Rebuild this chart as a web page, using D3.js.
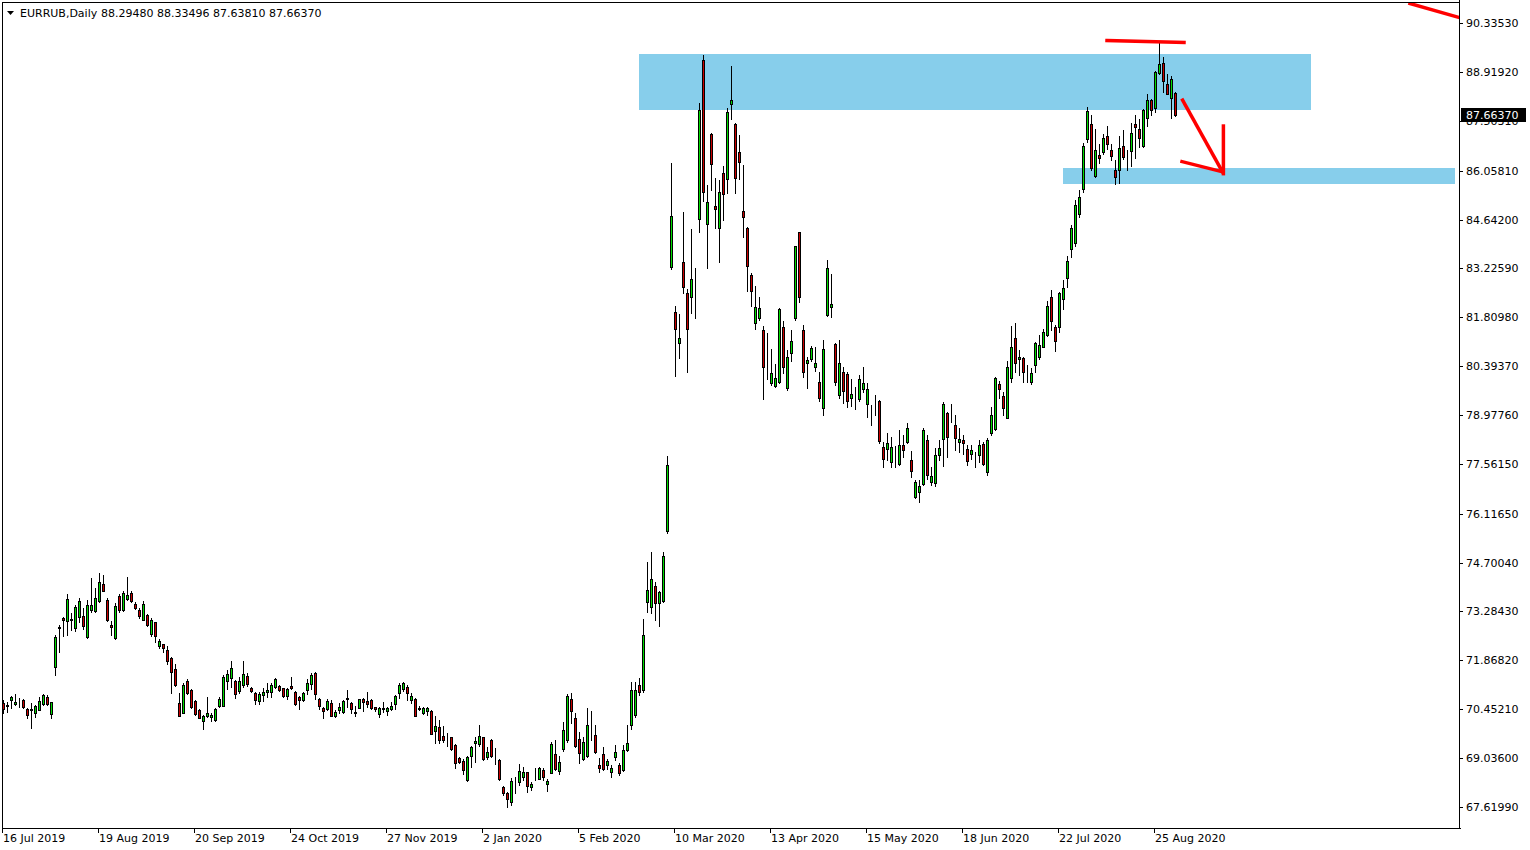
<!DOCTYPE html>
<html>
<head>
<meta charset="utf-8">
<script src="https://cdn.jsdelivr.net/npm/d3@7"></script>
<style>
  html, body { margin: 0; padding: 0; background: #ffffff; }
  svg { display: block; }
  text { font-family: "DejaVu Sans", "Liberation Sans", sans-serif; font-size: 11px; fill: #000; }
</style>
</head>
<body>
<svg id="chart" width="1530" height="850"></svg>
<script>
// ---------------- DATA (EURRUB, Daily) ----------------
const symbol = "EURRUB,Daily";

const opens = [
70.62,70.55,70.73,70.60,70.68,70.72,70.46,70.44,70.33,70.44,70.60,70.81,70.31,71.67,72.81,73.10,73.00,73.07,72.81,73.12,
73.15,72.55,73.32,73.29,73.60,74.09,73.63,72.89,72.51,73.73,73.32,73.64,73.81,73.50,73.33,73.05,73.18,72.62,72.97,72.29,
72.34,72.18,71.93,71.61,70.62,70.35,71.26,71.01,70.69,70.43,70.12,70.27,70.22,70.14,70.55,70.55,71.28,71.37,71.26,70.98,
71.16,71.42,71.06,70.91,70.70,70.87,70.95,70.94,71.09,71.13,71.06,70.84,71.12,70.95,70.81,70.72,71.00,71.19,71.50,70.75,
70.49,70.45,70.62,70.27,70.43,70.37,70.76,70.62,70.35,70.50,70.74,70.68,70.72,70.51,70.30,70.47,70.41,70.47,70.60,70.93,
71.05,71.10,70.73,70.74,70.47,70.35,70.41,70.40,69.83,69.94,69.68,69.66,69.64,69.42,69.04,68.96,68.41,69.11,69.48,69.45,
69.64,69.08,69.55,69.09,68.98,68.20,68.02,67.77,68.33,68.33,68.50,68.62,68.21,68.57,68.44,68.69,68.30,68.61,69.16,68.66,
69.30,69.56,70.74,70.19,69.58,69.02,69.10,69.89,69.70,68.83,69.16,68.83,68.64,69.08,68.83,68.68,69.26,70.00,70.28,71.14,
71.00,73.55,73.42,74.02,73.52,73.60,75.63,83.26,81.95,81.05,83.40,82.50,82.40,82.53,84.65,89.26,84.50,87.12,85.03,84.41,
85.98,85.81,87.98,87.40,86.59,84.89,84.39,83.02,81.63,81.78,81.43,80.78,79.90,79.83,79.94,81.52,79.77,80.77,81.78,84.27,
81.43,80.48,80.59,80.36,79.92,79.17,81.87,82.12,81.04,79.56,80.23,80.16,79.46,79.39,79.43,79.72,79.29,79.04,79.30,79.39,
78.06,77.98,77.62,77.76,77.55,78.11,78.19,77.67,76.61,76.75,76.98,78.25,77.04,77.01,77.82,78.27,79.03,78.96,78.69,78.20,
78.25,77.98,77.86,77.76,77.82,78.13,77.33,78.47,78.56,79.87,79.54,78.90,80.06,81.20,80.60,80.62,80.06,79.92,80.44,80.67,
80.96,81.29,82.40,81.52,81.54,82.33,82.94,83.78,83.97,84.79,85.54,86.98,87.40,85.91,86.51,86.59,87.06,86.67,86.09,86.09,
86.76,86.20,86.63,87.41,87.26,86.78,87.57,88.10,87.86,88.90,89.19,88.58,88.17,88.2948
];
const highs = [
70.71,70.65,70.84,70.89,70.77,70.74,70.50,70.62,70.58,70.82,70.89,70.87,70.67,72.60,72.89,73.13,73.79,73.23,73.47,73.68,
73.38,73.62,74.25,73.96,74.39,74.34,73.68,73.02,73.52,73.78,73.88,74.28,73.88,73.57,73.38,73.59,73.22,73.09,72.99,72.49,
72.35,72.29,71.98,71.76,70.93,71.20,71.32,71.03,70.72,70.45,70.28,70.81,70.33,70.49,70.82,71.44,71.59,71.85,71.30,71.40,
71.85,71.50,71.09,70.96,70.96,71.06,71.20,71.20,71.36,71.16,71.07,71.07,71.38,70.97,70.84,70.95,71.32,71.51,71.53,70.79,
70.53,70.74,70.72,70.43,70.62,70.72,71.01,70.65,70.55,70.76,70.77,70.95,70.74,70.53,70.53,70.65,70.51,70.65,70.87,71.20,
71.24,71.16,70.91,70.77,70.55,70.53,70.53,70.43,70.26,70.14,69.97,69.76,69.66,69.45,69.08,69.00,69.10,69.40,69.66,70.00,
69.66,69.35,69.58,69.32,69.00,68.23,68.05,68.45,68.50,68.86,68.79,68.64,68.35,68.74,68.77,68.74,68.42,69.51,69.56,69.10,
70.07,70.89,70.91,70.33,69.80,69.66,70.50,70.40,70.00,69.03,69.37,69.00,68.84,69.42,68.89,69.42,70.00,71.25,71.25,71.36,
73.07,74.71,75.00,74.13,73.89,75.00,77.79,86.27,82.13,81.90,84.86,82.62,84.37,83.24,88.02,89.41,85.64,87.14,85.83,85.79,
86.19,87.86,89.09,87.43,87.09,86.22,84.43,83.10,82.71,82.40,81.55,81.36,80.89,80.46,82.07,81.70,80.86,81.44,83.88,84.29,
81.59,80.66,80.98,80.94,80.23,81.15,83.47,83.05,81.06,81.15,80.38,80.23,80.02,79.78,80.14,80.36,79.90,79.27,79.56,79.41,
78.20,78.45,78.35,78.09,78.54,78.40,78.76,77.93,77.09,77.09,78.59,78.40,77.48,78.01,78.25,79.36,79.07,79.29,78.98,78.59,
78.40,78.11,78.11,77.91,78.25,78.20,78.30,79.22,80.07,79.96,79.65,80.55,81.55,81.63,80.86,80.67,80.44,80.35,81.10,81.29,
81.46,82.28,82.60,81.59,82.55,82.89,83.58,84.48,85.21,85.50,86.86,87.90,87.67,87.26,86.82,87.12,87.34,86.84,86.38,87.06,
87.23,86.66,87.43,87.67,87.54,87.84,88.27,88.12,88.94,89.77,89.34,88.87,88.80,88.33496
];
const lows = [
70.33,70.36,70.48,70.58,70.53,70.50,70.19,69.92,70.24,70.43,70.58,70.58,70.21,71.44,72.12,72.58,72.61,72.75,72.73,72.98,
72.77,72.52,73.28,73.26,73.57,73.87,73.02,72.60,72.50,73.28,73.31,73.62,73.57,73.37,73.09,73.03,72.87,72.57,72.39,72.22,
72.10,71.77,70.93,71.13,70.26,70.33,70.89,70.50,70.28,70.19,69.88,70.24,70.10,70.12,70.53,70.54,71.03,71.11,70.79,70.91,
71.11,71.13,70.96,70.60,70.60,70.70,70.80,70.80,71.06,70.99,70.82,70.75,71.05,70.58,70.47,70.70,70.89,71.04,70.76,70.45,
70.21,70.43,70.26,70.24,70.35,70.35,70.53,70.33,70.27,70.48,70.41,70.53,70.46,70.41,70.22,70.38,70.29,70.43,70.45,70.77,
70.97,70.72,70.62,70.26,70.43,70.32,70.29,69.73,69.46,69.48,69.51,69.39,69.27,68.75,68.88,68.58,68.37,68.79,68.93,69.40,
68.99,69.01,69.06,68.86,68.40,67.97,67.63,67.68,68.02,68.26,68.40,68.06,68.11,68.40,68.42,68.40,68.08,68.60,68.69,68.57,
69.24,69.51,70.04,69.37,68.88,68.98,69.08,69.56,69.18,68.64,68.69,68.71,68.50,68.98,68.55,68.66,69.24,69.88,70.24,70.87,
70.95,73.28,73.24,73.04,72.85,73.57,75.57,83.20,80.11,80.63,82.50,80.23,81.94,81.78,84.29,85.19,83.24,85.50,84.39,83.42,
84.63,85.42,87.54,85.40,85.81,84.13,82.58,82.14,81.48,81.73,79.43,80.02,79.85,79.78,79.90,80.20,79.70,80.55,81.72,82.26,
80.07,79.77,80.55,80.26,79.39,78.99,81.84,81.82,79.85,79.46,79.33,79.22,79.25,79.14,79.39,79.65,78.93,78.69,78.98,78.16,
77.48,77.67,77.48,77.48,77.53,77.77,78.16,77.19,76.58,76.46,76.95,77.12,76.95,76.93,77.67,77.51,77.77,78.78,77.96,77.91,
77.86,77.53,77.70,77.48,77.63,77.53,77.24,78.41,78.54,79.46,78.99,78.88,79.94,80.23,80.14,79.92,79.94,79.87,80.23,80.59,
80.94,81.27,81.44,80.84,81.39,82.04,82.69,83.56,83.88,84.72,85.45,86.89,86.09,85.88,86.27,86.54,86.68,86.36,85.66,85.71,
86.39,86.07,86.19,86.41,86.75,86.75,87.35,87.67,87.76,88.87,88.34,88.28,87.57,87.6381
];
const closes = [
70.46,70.57,70.82,70.67,70.69,70.53,70.28,70.45,70.54,70.69,70.87,70.60,70.66,72.55,72.83,73.03,73.65,73.03,73.41,73.59,
72.87,73.46,73.46,73.68,74.14,73.89,73.05,72.83,73.43,73.32,73.81,73.76,73.60,73.39,73.16,73.49,72.90,73.03,72.56,72.42,
72.23,71.85,71.54,71.14,70.27,71.16,70.92,70.52,70.31,70.21,70.26,70.34,70.28,70.47,70.74,71.39,71.47,71.64,70.90,71.27,
71.46,71.18,70.99,70.72,70.89,70.95,71.01,71.14,71.33,71.01,70.84,71.03,71.07,70.60,70.73,70.91,71.20,71.44,70.89,70.56,
70.39,70.70,70.27,70.37,70.52,70.68,70.77,70.46,70.36,70.74,70.67,70.59,70.50,70.45,70.48,70.48,70.48,70.55,70.84,71.16,
71.21,70.91,70.84,70.27,70.48,70.50,70.49,69.74,69.97,69.57,69.57,69.66,69.30,68.90,68.93,68.70,69.06,69.36,69.54,69.67,
69.01,69.21,69.09,69.09,68.43,68.02,67.86,68.38,68.33,68.66,68.62,68.24,68.28,68.57,68.74,68.50,68.37,69.45,68.73,68.92,
69.84,70.84,70.39,69.39,69.18,69.50,70.00,69.89,69.20,68.76,68.71,68.95,68.75,69.21,68.60,69.27,69.48,71.01,71.01,70.94,
72.60,73.91,74.22,73.52,73.84,74.89,77.53,84.74,81.46,81.20,82.70,81.46,82.92,82.53,87.81,85.45,85.14,86.24,84.94,85.43,
85.37,87.76,88.09,85.83,86.30,84.70,83.30,82.58,82.10,82.07,80.36,80.78,80.19,80.04,82.04,80.38,80.67,81.13,83.86,82.39,
80.21,80.57,80.91,80.48,79.48,80.88,83.23,82.19,79.94,80.48,79.67,79.39,79.59,79.39,80.01,79.90,79.72,79.04,79.30,78.23,
77.69,78.16,78.05,77.76,78.11,77.95,78.59,77.36,77.04,76.92,78.54,77.24,77.22,77.82,78.03,79.30,78.35,78.96,78.32,78.28,
78.16,77.65,77.95,77.76,78.11,77.55,78.25,78.98,80.04,79.72,79.19,80.38,80.96,80.48,80.67,80.23,80.06,80.19,81.05,81.00,
81.37,82.13,81.70,81.13,82.50,82.65,83.44,84.41,85.06,85.28,86.77,87.78,86.12,86.67,86.43,86.99,86.82,86.49,85.88,86.70,
86.46,86.20,87.14,87.33,86.99,87.81,88.10,87.81,88.91,89.16,88.66,88.29,88.70,87.6637
];

// x-axis date labels and the bar index they sit on
const dateLabels = ["16 Jul 2019","19 Aug 2019","20 Sep 2019","24 Oct 2019","27 Nov 2019","2 Jan 2020","5 Feb 2020",
                    "10 Mar 2020","13 Apr 2020","15 May 2020","18 Jun 2020","22 Jul 2020","25 Aug 2020"];
const dateLabelBars = [0,24,48,72,96,120,144,168,192,216,240,264,288];

// price axis tick labels
const priceTicks = ["90.33530","88.91920","87.50310","86.05810","84.64200","83.22590","81.80980","80.39370",
                    "78.97760","77.56150","76.11650","74.70040","73.28430","71.86820","70.45210","69.03600","67.61990"];

// drawn objects: zones (bar index from/to, price top/bottom)
const zoneFromBar = [159, 265];
const zoneToBar   = [327, 363];
const zoneTop     = [89.44, 86.13];
const zoneBottom  = [87.81, 85.66];

// drawn red lines: [bar1, price1, bar2, price2]
const lineBar1   = [276,   294.9, 294.75, 305.1, 351.75];
const linePrice1 = [89.83, 88.10, 86.32,  87.35, 90.90];
const lineBar2   = [295.25,304.8, 305.0,  305.1, 364.5];
const linePrice2 = [89.77, 86.04, 86.02,  85.97, 90.48];

// ---------------- CHART ----------------
const W = 1530, H = 850;
const plotLeft = 2, plotRight = 1460, plotTop = 2, plotBottom = 828;
const svg = d3.select("#chart");

const x = d3.scaleLinear().domain([0, 364.25]).range([3, 1460]);
const y = d3.scaleLinear().domain([67.011, 90.915]).range([828, 3]);

const bars = opens.map((o, i) => ({i, o, h: highs[i], l: lows[i], c: closes[i]}));

svg.append("rect").attr("width", W).attr("height", H).attr("fill", "#ffffff");

svg.append("defs").append("clipPath").attr("id", "plotClip")
  .append("rect").attr("x", plotLeft + 1).attr("y", plotTop + 1)
  .attr("width", plotRight - plotLeft - 1).attr("height", plotBottom - plotTop - 1);

const plot = svg.append("g").attr("clip-path", "url(#plotClip)");

// zones (background)
plot.selectAll("rect.zone").data(zoneFromBar).enter().append("rect")
  .attr("class", "zone")
  .attr("x", (d, k) => Math.round(x(d)))
  .attr("y", (d, k) => Math.round(y(zoneTop[k])))
  .attr("width", (d, k) => Math.round(x(zoneToBar[k])) - Math.round(x(d)))
  .attr("height", (d, k) => Math.round(y(zoneBottom[k])) - Math.round(y(zoneTop[k])))
  .attr("fill", "#87CEEB");

// candles
const cg = plot.append("g").attr("shape-rendering", "crispEdges");
const px = i => Math.round(x(i));
cg.selectAll("line.wick").data(bars).enter().append("line")
  .attr("x1", d => px(d.i) + 0.5).attr("x2", d => px(d.i) + 0.5)
  .attr("y1", d => Math.round(y(d.h)))
  .attr("y2", d => Math.round(y(d.l)) + 1)
  .attr("stroke", "#000").attr("stroke-width", 1);

cg.selectAll("rect.body").data(bars).enter().append("rect")
  .attr("x", d => px(d.i) - 0.5)
  .attr("y", d => Math.round(y(Math.max(d.o, d.c))) + 0.5)
  .attr("width", 2)
  .attr("height", d => Math.max(0, Math.round(y(Math.min(d.o, d.c))) - Math.round(y(Math.max(d.o, d.c)))))
  .attr("fill", d => d.c >= d.o ? "#00dc00" : "#c80000")
  .attr("stroke", "#000").attr("stroke-width", 1);

// red drawn lines
plot.selectAll("line.obj").data(lineBar1).enter().append("line")
  .attr("x1", (d, k) => x(d)).attr("y1", (d, k) => y(linePrice1[k]))
  .attr("x2", (d, k) => x(lineBar2[k])).attr("y2", (d, k) => y(linePrice2[k]))
  .attr("stroke", "#ff0000").attr("stroke-width", 3.5).attr("stroke-linecap", "square");

// frame
const frame = svg.append("g").attr("shape-rendering", "crispEdges").attr("stroke", "#000").attr("stroke-width", 1);
frame.append("line").attr("x1", plotLeft + 0.5).attr("x2", plotLeft + 0.5).attr("y1", plotTop).attr("y2", plotBottom + 1);
frame.append("line").attr("x1", plotLeft).attr("x2", plotRight + 1).attr("y1", plotBottom + 0.5).attr("y2", plotBottom + 0.5);
frame.append("line").attr("x1", plotRight - 0.5).attr("x2", plotRight - 0.5).attr("y1", 0).attr("y2", plotBottom + 1);
frame.append("line").attr("x1", plotLeft).attr("x2", plotRight).attr("y1", plotTop + 0.5).attr("y2", plotTop + 0.5);

// price axis
const pa = svg.append("g");
priceTicks.forEach(t => {
  const yy = Math.round(y(+t));
  pa.append("line").attr("x1", plotRight - 1).attr("x2", plotRight + 3)
    .attr("y1", yy + 0.5).attr("y2", yy + 0.5).attr("stroke", "#000").attr("shape-rendering", "crispEdges");
  pa.append("text").attr("x", 1466).attr("y", yy).attr("dy", "0.36em").text(t);
});

// current price label
const last = bars[bars.length - 1];
const fmt = d3.format(".5f");
const ly = Math.round(y(last.c));
pa.append("rect").attr("x", plotRight + 1).attr("y", ly - 7).attr("width", 1530 - plotRight - 5).attr("height", 14)
  .attr("fill", "#000").attr("shape-rendering", "crispEdges");
pa.append("text").attr("x", 1466).attr("y", ly).attr("dy", "0.36em").style("fill", "#fff").text(fmt(last.c));

// date axis
const da = svg.append("g");
dateLabelBars.forEach((b, k) => {
  const xx = Math.round(x(b));
  da.append("line").attr("x1", xx - 0.5).attr("x2", xx - 0.5).attr("y1", plotBottom).attr("y2", plotBottom + 5)
    .attr("stroke", "#000").attr("shape-rendering", "crispEdges");
  da.append("text").attr("x", xx).attr("y", 842).text(dateLabels[k]);
});

// header
svg.append("path").attr("d", "M7,11 L14,11 L10.5,15 Z").attr("fill", "#000");
svg.append("text").attr("x", 20).attr("y", 17).text(symbol);
svg.append("text").attr("x", 101).attr("y", 17)
  .text([last.o, last.h, last.l, last.c].map(fmt).join(" "));
</script>
</body>
</html>
